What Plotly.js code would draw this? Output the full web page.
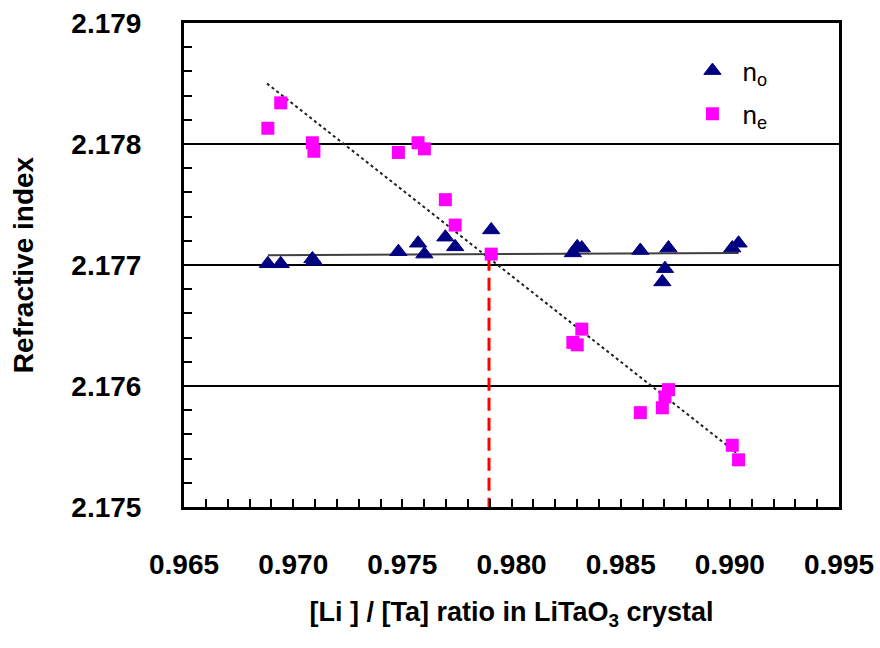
<!DOCTYPE html>
<html>
<head>
<meta charset="utf-8">
<script src="https://cdn.plot.ly/plotly-3.0.1.min.js"></script>
<style>html,body{margin:0;padding:0;background:#fff;}#chart{width:880px;height:648px;}</style>
</head>
<body>
<div id="chart"></div>
<script>
// [Li]/[Ta] ratio of each sample
const liTaRatio = [0.96884, 0.96943, 0.97088, 0.97095, 0.97482, 0.97572, 0.97601, 0.97697, 0.97742, 0.97907,
                   0.98281, 0.98301, 0.98322, 0.98590, 0.98691, 0.98703, 0.98719, 0.99011, 0.99040];
// ordinary refractive index n_o
const nOrdinary = [2.17701, 2.17701, 2.17705, 2.17703, 2.17711, 2.17718, 2.17709, 2.17723, 2.17715, 2.17729,
                   2.17710, 2.17715, 2.17714, 2.17712, 2.17686, 2.17697, 2.17714, 2.17714, 2.17718];
// extraordinary refractive index n_e
const nExtra = [2.17813, 2.17834, 2.17801, 2.17794, 2.17793, 2.17801, 2.17796, 2.17754, 2.17733, 2.17709,
                2.17636, 2.17634, 2.17647, 2.17578, 2.17582, 2.17591, 2.17597, 2.17551, 2.17539];
// fitted trend lines
const noFitX = [0.96884, 0.99040];
const noFitY = [2.17708, 2.17710];
const neFitX = [0.96880, 0.99043];
const neFitY = [2.17850, 2.17543];
// crossing-point guide
const guideX = [0.97897, 0.97897];
const guideY = [2.17706, 2.17500];
// tick labels
const xTickVals = [0.965, 0.970, 0.975, 0.980, 0.985, 0.990, 0.995];
const yTickVals = [2.175, 2.176, 2.177, 2.178, 2.179];

const FONT = 'Liberation Sans, Arial, Helvetica, sans-serif';

const traces = [
  {x: noFitX, y: noFitY, mode: 'lines', line: {color: '#404040', width: 2}, showlegend: false, hoverinfo: 'skip'},
  {x: neFitX, y: neFitY, mode: 'lines', line: {color: '#202020', width: 2, dash: 'dot'}, showlegend: false, hoverinfo: 'skip'},
  {x: guideX, y: guideY, mode: 'lines', line: {color: '#ff0000', width: 3, dash: '13px,7px'}, showlegend: false, hoverinfo: 'skip'},
  {x: liTaRatio, y: nOrdinary, mode: 'markers', name: 'n<sub>o</sub>', legend: 'legend',
   marker: {symbol: 'triangle-up', size: 15, color: '#000080', line: {color: '#000080', width: 1}}},
  {x: liTaRatio, y: nExtra, mode: 'markers', name: 'n<sub>e</sub>', legend: 'legend2',
   marker: {symbol: 'square', size: 13, color: '#ff00ff', line: {width: 0}}}
];

const legendCommon = {
  xref: 'paper', yref: 'paper', xanchor: 'left', yanchor: 'top',
  bgcolor: 'rgba(0,0,0,0)', borderwidth: 0, itemwidth: 50,
  font: {family: FONT, size: 26, color: '#000'}
};

const layout = {
  width: 880, height: 648,
  margin: {l: 184, r: 41, t: 23, b: 141},
  paper_bgcolor: '#fff', plot_bgcolor: '#fff',
  font: {family: FONT, color: '#000'},
  xaxis: {
    range: [0.965, 0.995], tickvals: xTickVals, tickformat: '.3f',
    showline: true, linecolor: '#000', linewidth: 3, mirror: true,
    ticks: 'inside', ticklen: 8, tickwidth: 2, tickcolor: '#000',
    minor: {dtick: 0.001, ticks: 'inside', ticklen: 8, tickwidth: 2, tickcolor: '#000', showgrid: false},
    showgrid: false, zeroline: false,
    tickfont: {family: FONT, size: 28, weight: 'bold', color: '#000'},
    ticklabelstandoff: 30,
    title: {text: '[Li ] / [Ta] ratio in LiTaO<sub>3</sub> crystal', standoff: 24,
            font: {family: FONT, size: 27, weight: 'bold', color: '#000'}}
  },
  yaxis: {
    range: [2.175, 2.179], tickvals: yTickVals, tickformat: '.3f',
    showline: true, linecolor: '#000', linewidth: 3, mirror: true,
    ticks: 'inside', ticklen: 8, tickwidth: 2, tickcolor: '#000',
    minor: {dtick: 0.0002, ticks: 'inside', ticklen: 8, tickwidth: 2, tickcolor: '#000', showgrid: false},
    showgrid: true, gridcolor: '#000', gridwidth: 2, zeroline: false,
    tickfont: {family: FONT, size: 28, weight: 'bold', color: '#000'},
    ticklabelstandoff: 34,
    title: {text: 'Refractive index', standoff: 30,
            font: {family: FONT, size: 28, weight: 'bold', color: '#000'}}
  },
  legend: Object.assign({}, legendCommon, {x: 0.761, y: 0.950}),
  legend2: Object.assign({}, legendCommon, {x: 0.761, y: 0.861}),
  showlegend: true
};

Plotly.newPlot('chart', traces, layout, {displayModeBar: false, staticPlot: true});
</script>
</body>
</html>
